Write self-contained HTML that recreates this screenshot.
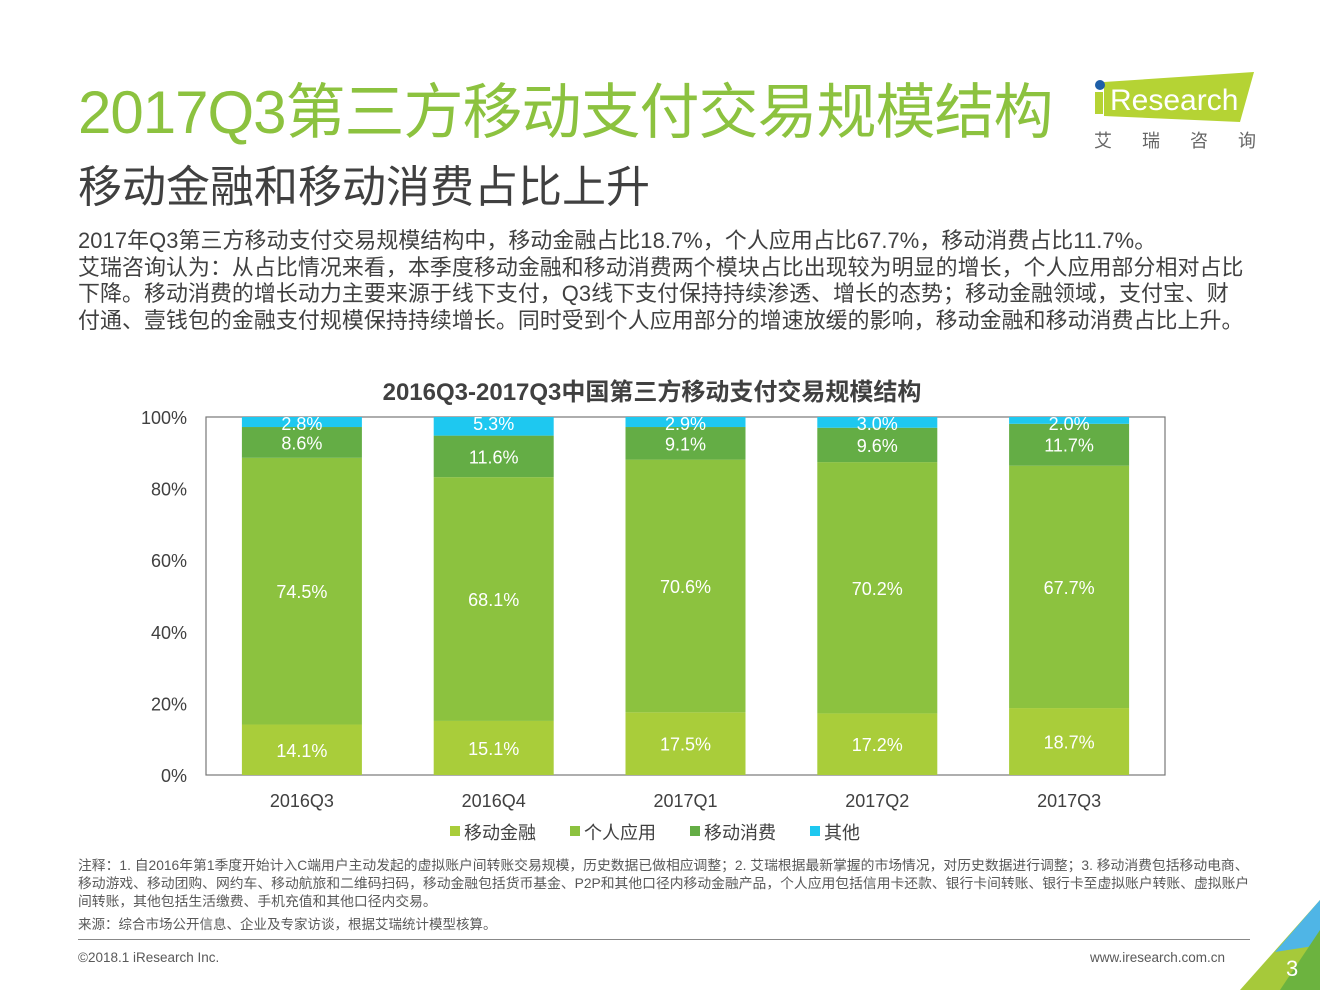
<!DOCTYPE html>
<html><head><meta charset="utf-8">
<style>
body{margin:0;width:1320px;height:990px;background:#fff;position:relative;overflow:hidden;font-family:"Liberation Sans","Noto Sans CJK SC",sans-serif;}
.abs{position:absolute;}
</style></head><body>
<div class="abs" style="left:78px;top:64px;font-size:60px;color:#8cc23f;white-space:nowrap;letter-spacing:-1px;">2017Q3第三方移动支付交易规模结构</div>
<div class="abs" style="left:78px;top:151px;font-size:44px;color:#404040;white-space:nowrap;">移动金融和移动消费占比上升</div>
<div class="abs" style="left:1092px;top:70px;width:170px;height:85px;">
<svg width="170" height="85"><polygon points="12,12 162,2 148,52 12,46" fill="#b5d334"/><circle cx="8" cy="15" r="5" fill="#1e5fa8"/><rect x="3" y="22" width="8" height="22" fill="#b5d334"/>
<text x="18" y="40" font-size="30" fill="#fff" font-family="Liberation Sans, sans-serif">Research</text>
<text x="2" y="77" font-size="18" fill="#666" font-family="Noto Sans CJK SC, sans-serif" letter-spacing="30">艾瑞咨询</text></svg></div>
<div class="abs" style="left:78px;top:228px;width:1168px;font-size:21.9px;line-height:26.5px;color:#404040;letter-spacing:0.1px;">2017年Q3第三方移动支付交易规模结构中，移动金融占比18.7%，个人应用占比67.7%，移动消费占比11.7%。<br>艾瑞咨询认为：从占比情况来看，本季度移动金融和移动消费两个模块占比出现较为明显的增长，个人应用部分相对占比下降。移动消费的增长动力主要来源于线下支付，Q3线下支付保持持续渗透、增长的态势；移动金融领域，支付宝、财付通、壹钱包的金融支付规模保持持续增长。同时受到个人应用部分的增速放缓的影响，移动金融和移动消费占比上升。</div>
<div class="abs" style="left:0;width:1304px;text-align:center;top:372px;font-size:24px;font-weight:bold;color:#404040;">2016Q3-2017Q3中国第三方移动支付交易规模结构</div>
<svg class="abs" style="left:0;top:0" width="1320" height="990" id="chart"></svg>
<div class="abs" style="left:78px;top:857px;width:1178px;font-size:13.8px;line-height:18px;color:#595959;">注释：1. 自2016年第1季度开始计入C端用户主动发起的虚拟账户间转账交易规模，历史数据已做相应调整；2. 艾瑞根据最新掌握的市场情况，对历史数据进行调整；3. 移动消费包括移动电商、移动游戏、移动团购、网约车、移动航旅和二维码扫码，移动金融包括货币基金、P2P和其他口径内移动金融产品，个人应用包括信用卡还款、银行卡间转账、银行卡至虚拟账户转账、虚拟账户间转账，其他包括生活缴费、手机充值和其他口径内交易。</div>
<div class="abs" style="left:78px;top:913px;font-size:13.5px;color:#595959;">来源：综合市场公开信息、企业及专家访谈，根据艾瑞统计模型核算。</div>
<div class="abs" style="left:78px;top:939px;width:1172px;height:1px;background:#888;"></div>
<div class="abs" style="left:78px;top:950px;font-size:13.5px;color:#595959;">©2018.1 iResearch Inc.</div>
<div class="abs" style="left:1090px;top:950px;font-size:13.5px;color:#595959;">www.iresearch.com.cn</div>
<svg class="abs" style="left:1240px;top:900px" width="80" height="90"><polygon points="80,0 80,90 0,90" fill="#a6c93a"/><polygon points="80,0 80,45 35,52" fill="#4fb5e6"/><polygon points="80,30 80,90 40,90" fill="#6cb33f"/><text x="46" y="76" font-size="22" fill="#fff" font-family="Liberation Sans, sans-serif">3</text></svg>
<script>
const categories=["2016Q3","2016Q4","2017Q1","2017Q2","2017Q3"];
const finance=[14.1,15.1,17.5,17.2,18.7];
const personal=[74.5,68.1,70.6,70.2,67.7];
const consume=[8.6,11.6,9.1,9.6,11.7];
const other=[2.8,5.3,2.9,3.0,2.0];
const yTicks=[0,20,40,60,80,100];
const seriesNames=["移动金融","个人应用","移动消费","其他"];
const colors=["#a9cd3a","#8cc23f","#64ad45","#1ec8f0"];
const svg=document.getElementById('chart');const NS="http://www.w3.org/2000/svg";
const X0=206,X1=1165,Y0=775,Y1=417;
const y=v=>Y0-(v/100)*(Y0-Y1);
const band=(X1-X0)/categories.length;const xc=i=>X0+band*(i+0.5);const bw=120;
function mk(t,a,p){const e=document.createElementNS(NS,t);for(const k in a)e.setAttribute(k,a[k]);(p||svg).appendChild(e);return e;}
const frame=mk('rect',{x:X0,y:Y1,width:X1-X0,height:Y0-Y1,fill:'none',stroke:'#777','stroke-width':1.2});


yTicks.forEach(t=>{const e=mk('text',{x:187,y:y(t)+7,'text-anchor':'end','font-size':18,fill:'#404040'});e.textContent=t+'%';

});
const series=[finance,personal,consume,other];
categories.forEach((c,i)=>{let acc=0;
series.forEach((s,k)=>{const v=s[i];const top=Math.min(100,acc+v);
const r=mk('rect',{x:xc(i)-bw/2,y:y(top),width:bw,height:y(acc)-y(top),fill:colors[k]});


let ly=(y(acc)+y(top))/2+7;if(k==3)ly=y(100)+13;
const tx=mk('text',{x:xc(i),y:ly,'text-anchor':'middle','font-size':18,fill:'#fff'});tx.textContent=v.toFixed(1)+'%';


acc=top;});
const lb=mk('text',{x:xc(i),y:807,'text-anchor':'middle','font-size':18,fill:'#404040'});lb.textContent=c;

});
const lx=[450,570,690,810];
seriesNames.forEach((n,k)=>{const g=mk('g',{});


mk('rect',{x:lx[k],y:826,width:10,height:10,fill:colors[k]},g);
const t=mk('text',{x:lx[k]+14,y:839,'font-size':18,fill:'#404040'},g);t.textContent=n;});
</script>
</body></html>
